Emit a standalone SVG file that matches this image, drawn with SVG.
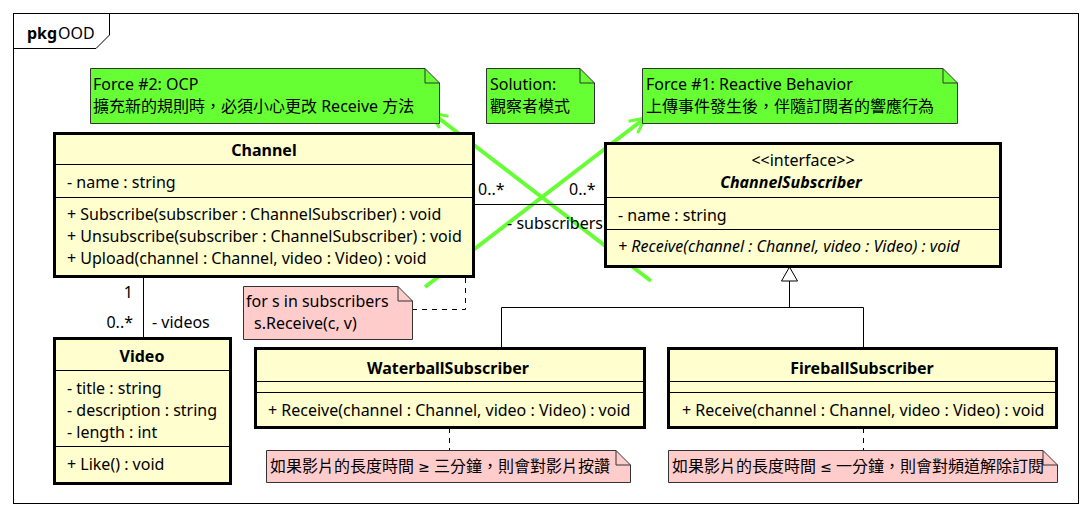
<svg xmlns="http://www.w3.org/2000/svg" width="1090" height="516" viewBox="0 0 1090 516">
<defs>
<style>
text{font-family:"Noto Sans","Noto Sans CJK TC",sans-serif;font-size:16px;fill:#000}
.b{font-weight:bold}
.i{font-style:italic}
.m{font-family:"DejaVu Sans",sans-serif;font-size:14px}
.cls{fill:#FEFECE;stroke:#000;stroke-width:3}
.sep{stroke:#000;stroke-width:1}
.gn{fill:#66FF33;stroke:#333;stroke-width:1}
.pk{fill:#FFCCCC;stroke:#333;stroke-width:1}
.ln{fill:none;stroke:#000;stroke-width:1}
.dash{fill:none;stroke:#000;stroke-width:1;stroke-dasharray:5,5}
.g{fill:none;stroke:#66FF33;stroke-width:4}
</style>
<marker id="ga" viewBox="0 0 12 12" refX="11" refY="6" markerWidth="4.5" markerHeight="4.5" orient="auto" markerUnits="strokeWidth">
<path d="M1,1 L11,6 L1,11" fill="none" stroke="#66FF33" stroke-width="2"/>
</marker>
</defs>
<rect x="0" y="0" width="1090" height="516" fill="#fff"/>
<g id="package">
<rect x="13.5" y="13.5" width="1065" height="490" fill="none" stroke="#000" stroke-width="1"/>
<path d="M13.5,48.5 L96,48.5 L109.5,35 L109.5,13.5" fill="none" stroke="#000" stroke-width="1"/>
<text x="27" y="39" class="b">pkg</text><text x="58" y="39">OOD</text>
</g>
<g id="connectors">
<line x1="651" y1="281" x2="432" y2="113" class="g" marker-end="url(#ga)"/>
<line x1="425" y1="287" x2="645" y2="118" class="g" marker-end="url(#ga)"/>
<line x1="474" y1="204.5" x2="605" y2="204.5" class="ln"/>
<text x="478" y="195">0..*</text>
<text x="569" y="195">0..*</text>
<text x="603" y="229" text-anchor="end">- subscribers</text>
<line x1="143.5" y1="277" x2="143.5" y2="338" class="ln"/>
<text x="133" y="298" text-anchor="end">1</text>
<text x="133" y="328" text-anchor="end">0..*</text>
<text x="152" y="328">- videos</text>
<path d="M412,309.5 L465.5,309.5 L465.5,258" class="dash"/>
<circle cx="465.5" cy="258" r="3" fill="#000"/>
<path d="M501.5,348 L501.5,307.5 L863.5,307.5 L863.5,348 M789.5,307.5 L789.5,281" class="ln"/>
<path d="M789.5,267 L797.5,281 L781.5,281 Z" fill="#fff" stroke="#000" stroke-width="1"/>
<line x1="449.5" y1="428" x2="449.5" y2="450" class="dash"/>
<line x1="863.5" y1="428" x2="863.5" y2="450" class="dash"/>
</g>
<g id="note-force2">
<path d="M90.5,68.5 L425,68.5 L439.5,83 L439.5,123.5 L90.5,123.5 Z" class="gn"/>
<path d="M425,68.5 L425,83 L439.5,83" fill="none" stroke="#333"/>
<text x="93" y="90">Force #2: OCP</text>
<text x="93" y="112">擴充新的規則時，必須小心更改 Receive 方法</text>
</g>
<g id="note-solution">
<path d="M486.5,68.5 L580,68.5 L594.5,83 L594.5,123.5 L486.5,123.5 Z" class="gn"/>
<path d="M580,68.5 L580,83 L594.5,83" fill="none" stroke="#333"/>
<text x="490" y="90">Solution:</text>
<text x="490" y="112">觀察者模式</text>
</g>
<g id="note-force1">
<path d="M642.5,68.5 L943,68.5 L957.5,83 L957.5,123.5 L642.5,123.5 Z" class="gn"/>
<path d="M943,68.5 L943,83 L957.5,83" fill="none" stroke="#333"/>
<text x="646" y="90">Force #1: Reactive Behavior</text>
<text x="646" y="112">上傳事件發生後，伴隨訂閱者的響應行為</text>
</g>
<g id="Channel">
<rect x="54.5" y="133.5" width="419" height="143" class="cls"/>
<line x1="54" y1="164.5" x2="474" y2="164.5" class="sep"/>
<line x1="54" y1="197.5" x2="474" y2="197.5" class="sep"/>
<text x="264" y="156" text-anchor="middle" class="b">Channel</text>
<text x="67" y="188">- name : string</text>
<text x="67" y="220">+ Subscribe(subscriber : ChannelSubscriber) : void</text>
<text x="67" y="242">+ Unsubscribe(subscriber : ChannelSubscriber) : void</text>
<text x="67" y="264">+ Upload(channel : Channel, video : Video) : void</text>
</g>
<g id="ChannelSubscriber">
<rect x="605.5" y="143.5" width="395" height="123" class="cls"/>
<line x1="605" y1="197.5" x2="1001" y2="197.5" class="sep"/>
<line x1="605" y1="229.5" x2="1001" y2="229.5" class="sep"/>
<text x="803" y="166" text-anchor="middle">&lt;&lt;interface&gt;&gt;</text>
<text x="791" y="188" text-anchor="middle" class="b i">ChannelSubscriber</text>
<text x="618" y="221">- name : string</text>
<text x="618" y="252" class="i">+ Receive(channel : Channel, video : Video) : void</text>
</g>
<g id="Video">
<rect x="54.5" y="338.5" width="176" height="145" class="cls"/>
<line x1="54" y1="370.5" x2="231" y2="370.5" class="sep"/>
<line x1="54" y1="446.5" x2="231" y2="446.5" class="sep"/>
<text x="142" y="362" text-anchor="middle" class="b">Video</text>
<text x="67" y="394">- title : string</text>
<text x="67" y="416">- description : string</text>
<text x="67" y="438">- length : int</text>
<text x="67" y="470">+ Like() : void</text>
</g>
<g id="note-loop">
<path d="M243.5,286.5 L398,286.5 L412.5,301 L412.5,339.5 L243.5,339.5 Z" class="pk"/>
<path d="M398,286.5 L398,301 L412.5,301" fill="none" stroke="#333"/>
<text x="246" y="307">for s in subscribers</text>
<text x="254" y="329">s.Receive(c, v)</text>
</g>
<g id="WaterballSubscriber">
<rect x="255.5" y="348.5" width="389" height="79" class="cls"/>
<line x1="255" y1="381.5" x2="645" y2="381.5" class="sep"/>
<line x1="255" y1="392.5" x2="645" y2="392.5" class="sep"/>
<text x="448" y="374" text-anchor="middle" class="b">WaterballSubscriber</text>
<text x="268" y="416">+ Receive(channel : Channel, video : Video) : void</text>
</g>
<g id="FireballSubscriber">
<rect x="668.5" y="348.5" width="388" height="79" class="cls"/>
<line x1="668" y1="381.5" x2="1057" y2="381.5" class="sep"/>
<line x1="668" y1="392.5" x2="1057" y2="392.5" class="sep"/>
<text x="862" y="374" text-anchor="middle" class="b">FireballSubscriber</text>
<text x="682" y="416">+ Receive(channel : Channel, video : Video) : void</text>
</g>
<g id="note-waterball">
<path d="M266.5,450.5 L616,450.5 L630.5,465 L630.5,482.5 L266.5,482.5 Z" class="pk"/>
<path d="M616,450.5 L616,465 L630.5,465" fill="none" stroke="#333"/>
<text x="270" y="472">如果影片的長度時間 <tspan class="m">≥</tspan> 三分鐘，則會對影片按讚</text>
</g>
<g id="note-fireball">
<path d="M668.5,450.5 L1043,450.5 L1057.5,465 L1057.5,482.5 L668.5,482.5 Z" class="pk"/>
<path d="M1043,450.5 L1043,465 L1057.5,465" fill="none" stroke="#333"/>
<text x="672" y="472">如果影片的長度時間 <tspan class="m">≤</tspan> 一分鐘，則會對頻道解除訂閱</text>
</g>
</svg>
